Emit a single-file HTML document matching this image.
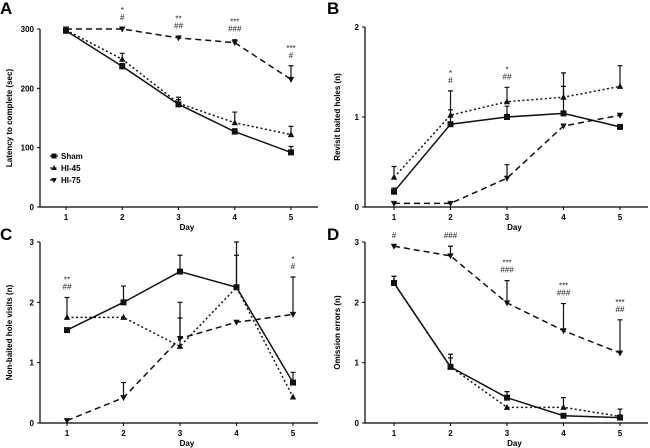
<!DOCTYPE html>
<html><head><meta charset="utf-8"><style>
body{margin:0;background:#fff}
svg{display:block;font-family:"Liberation Sans",Arial,sans-serif}
</style></head><body>
<svg id="c" width="650" height="448" viewBox="0 0 650 448"></svg>
<script>
const days=[1,2,3,4,5];
const seriesNames=["Sham","HI-45","HI-75"];
// Panel A
const aSham=[297,237,173,127,92], aShamErr=[3,5,8,5,10];
const a45=[298,249,175,142,122], a45Err=[4,10,10,18,14];
const a75=[300,300,285,277,215], a75Err=[2,2,2,5,23];
const aTicks=[0,100,200,300];
const aAnn=[[],["*","#"],["**","##"],["***","###"],["***","#"]];
// Panel B
const bSham=[0.17,0.92,1.0,1.04,0.89], bShamErr=[0.04,0.16,0.12,0.45,0];
const b45=[0.33,1.02,1.17,1.22,1.34], b45Err=[0.12,0.27,0.16,0.12,0.23];
const b75=[0.04,0.04,0.32,0.9,1.02], b75Err=[0,0,0.15,0,0];
const bTicks=[0,1,2];
const bAnn=[[],["*","#"],["*","##"],[],[]];
// Panel C
const cSham=[1.54,2.0,2.51,2.25,0.67], cShamErr=[0,0.27,0.27,0.53,0.17];
const c45=[1.75,1.75,1.27,2.25,0.43], c45Err=[0.33,0,0.47,0.75,0];
const c75=[0.04,0.42,1.4,1.67,1.8], c75Err=[0,0.25,0.6,0,0.62];
const cTicks=[0,1,2,3];
const cAnn=[["**","##"],[],[],[],["*","#"]];
// Panel D
const dSham=[2.32,0.93,0.42,0.12,0.09], dShamErr=[0.11,0.21,0.1,0,0];
const d45=[2.32,0.93,0.26,0.26,0.11], d45Err=[0.11,0.15,0,0.16,0.12];
const d75=[2.93,2.77,1.99,1.53,1.16], d75Err=[0,0.16,0.37,0.45,0.55];
const dTicks=[0,1,2,3];
const dAnn=[["#"],["###"],["***","###"],["***","###"],["***","##"]];

const svg=document.getElementById('c');
const NS="http://www.w3.org/2000/svg";
function mk(tag,attrs,parent){const e=document.createElementNS(NS,tag);for(const k in attrs)e.setAttribute(k,attrs[k]);(parent||svg).appendChild(e);return e;}

const dashes=["none","2,2.5","6,4"];
function panel(p){
  const g=mk('g',{});
  
  
  const sx=d=>p.x1+(d-1)*(p.x5-p.x1)/4;
  const sy=v=>p.y0-(v-p.ymin)*(p.y0-p.yTop)/(p.ymax-p.ymin);
  const L=mk('text',{x:p.lx,y:p.ly,'font-size':17,'font-weight':'bold'},g);L.textContent=p.letter;
  
  const ax=mk('path',{d:`M${p.ax},${p.yTop} V${p.y0} H${p.axEnd}`,stroke:'#000','stroke-width':1.2,fill:'none'},g);
  
  p.ticks.forEach(t=>{
    mk('line',{x1:p.ax-3,x2:p.ax,y1:sy(t),y2:sy(t),stroke:'#000'},g);
    const tx=mk('text',{x:p.ax-6,y:sy(t)+3,'font-size':8,'font-weight':'bold','text-anchor':'end'},g);tx.textContent=t;
    
  });
  days.forEach(d=>{
    mk('line',{x1:sx(d),x2:sx(d),y1:p.y0,y2:p.y0+3,stroke:'#000'},g);
    const tx=mk('text',{x:sx(d),y:p.y0+13,'font-size':8,'font-weight':'bold','text-anchor':'middle'},g);tx.textContent=d;
    
  });
  const xt=mk('text',{x:(p.ax+p.axEnd)/2+8,y:p.y0+23,'font-size':8,'font-weight':'bold','text-anchor':'middle'},g);xt.textContent='Day';
  
  const cy=(p.yTop+p.y0)/2;
  const yt=mk('text',{x:p.ytx,y:cy,'font-size':8,'font-weight':'bold','text-anchor':'middle',transform:`rotate(-90 ${p.ytx} ${cy})`},g);yt.textContent=p.ytitle;
  
  const tops=days.map(()=>-1e9);
  p.series.forEach((s,i)=>{
    const pts=s.v.map((v,j)=>sx(days[j])+','+sy(v)).join(' ');
    const ln=mk('polyline',{points:pts,fill:'none',stroke:'#111','stroke-width':1.5,'stroke-dasharray':dashes[i]},g);
    
    s.v.forEach((v,j)=>{
      const x=sx(days[j]),y=sy(v),ye=sy(v+s.e[j]);
      tops[j]=Math.max(tops[j],v+s.e[j]);
      if(s.e[j]>0){
        const eb=mk('path',{d:`M${x},${y} V${ye} M${x-2.5},${ye} H${x+2.5}`,stroke:'#111','stroke-width':1.2},g);
        
      }
      let m;
      if(i==0)m=mk('rect',{x:x-3,y:y-3,width:6,height:6,fill:'#111'},g);
      else if(i==1)m=mk('path',{d:`M${x},${y-3.5} L${x+3.2},${y+2.5} L${x-3.2},${y+2.5}Z`,fill:'#111'},g);
      else m=mk('path',{d:`M${x},${y+3.5} L${x+3.2},${y-2.5} L${x-3.2},${y-2.5}Z`,fill:'#111'},g);
      
    });
  });
  p.ann.forEach((a,j)=>{
    const base=sy(tops[j])-8;
    a.slice().reverse().forEach((s,k)=>{
      const t=mk('text',{x:sx(days[j]),y:base-k*10+(s[0]=='*'?3:0),'font-size':s[0]=='*'?8:8,'text-anchor':'middle',fill:'#222'},g);
      t.textContent=s;
      
    });
  });
  return {g,sx,sy};
}
const A=panel({letter:'A',lx:0,ly:14,ax:40,axEnd:318,yTop:29,y0:207,x1:66,x5:291,ymin:0,ymax:300,ticks:aTicks,ytx:12,ytitle:'Latency to complete (sec)',
  series:[{v:aSham,e:aShamErr},{v:a45,e:a45Err},{v:a75,e:a75Err}],ann:aAnn});
panel({letter:'B',lx:327,ly:14,ax:365,axEnd:648,yTop:27,y0:207,x1:394,x5:620,ymin:0,ymax:2,ticks:bTicks,ytx:340,ytitle:'Revisit baited holes (n)',
  series:[{v:bSham,e:bShamErr},{v:b45,e:b45Err},{v:b75,e:b75Err}],ann:bAnn});
panel({letter:'C',lx:0,ly:240,ax:40,axEnd:318,yTop:242,y0:423,x1:67,x5:293,ymin:0,ymax:3,ticks:cTicks,ytx:12,ytitle:'Non-baited hole visits (n)',
  series:[{v:cSham,e:cShamErr},{v:c45,e:c45Err},{v:c75,e:c75Err}],ann:cAnn});
panel({letter:'D',lx:327,ly:240,ax:365,axEnd:648,yTop:242,y0:423,x1:394,x5:620,ymin:0,ymax:3,ticks:dTicks,ytx:340,ytitle:'Omission errors (n)',
  series:[{v:dSham,e:dShamErr},{v:d45,e:d45Err},{v:d75,e:d75Err}],ann:dAnn});
// legend
seriesNames.forEach((n,i)=>{
  const y=156+i*12,x=54;
  const lg=mk('g',{});
  
  
  mk('line',{x1:x-4,x2:x+4,y1:y,y2:y,stroke:'#111','stroke-width':1.3,'stroke-dasharray':dashes[i]},lg);
  if(i==0)mk('rect',{x:x-2.5,y:y-2.5,width:5,height:5,fill:'#111'},lg);
  else if(i==1)mk('path',{d:`M${x},${y-3} L${x+2.8},${y+2} L${x-2.8},${y+2}Z`,fill:'#111'},lg);
  else mk('path',{d:`M${x},${y+3} L${x+2.8},${y-2} L${x-2.8},${y-2}Z`,fill:'#111'},lg);
  const t=mk('text',{x:x+7,y:y+3,'font-size':8,'font-weight':'bold'},lg);t.textContent=n;
});
</script>
</body></html>
